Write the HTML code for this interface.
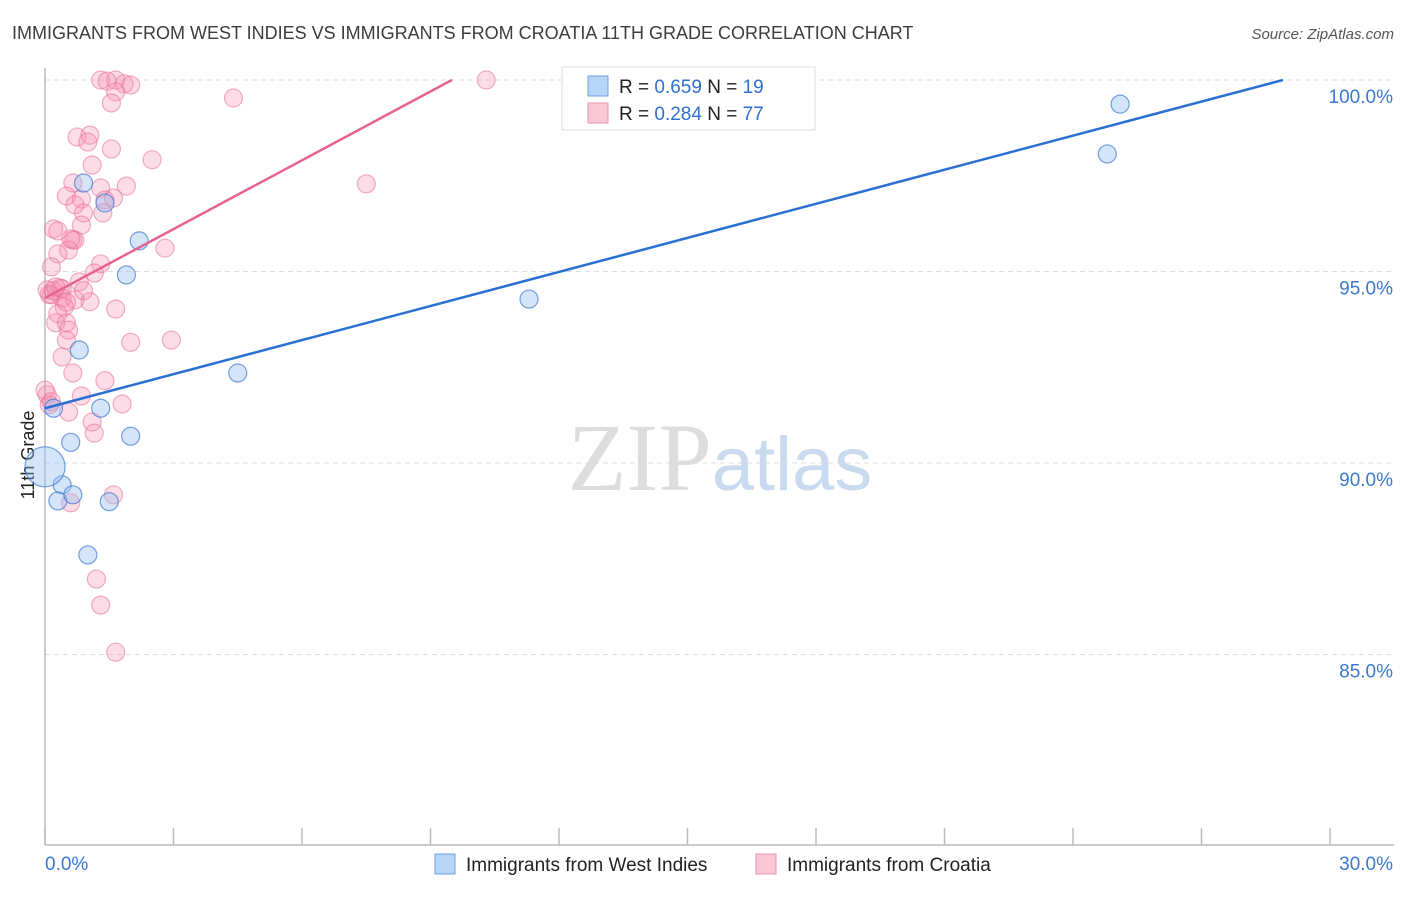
<!DOCTYPE html>
<html><head><meta charset="utf-8">
<style>
body{margin:0;background:#fff;font-family:"Liberation Sans",sans-serif;}
</style></head>
<body>
<svg id="chart" width="1406" height="892" xmlns="http://www.w3.org/2000/svg" font-family="Liberation Sans, sans-serif">
<text x="12" y="39" font-size="18" fill="#3c3c3c">IMMIGRANTS FROM WEST INDIES VS IMMIGRANTS FROM CROATIA 11TH GRADE CORRELATION CHART</text>
<text x="1394" y="39" font-size="15" fill="#555" text-anchor="end" font-style="italic">Source: ZipAtlas.com</text>
<text x="720" y="490" font-size="96" text-anchor="middle" fill="#ddd" font-family="Liberation Serif, serif">ZIP<tspan fill="#c9d9ee" font-family="Liberation Sans, sans-serif" font-size="76">atlas</tspan></text>
<text transform="translate(34,455) rotate(-90)" font-size="18" fill="#222" text-anchor="middle">11th Grade</text>
<g id="grid"></g><g id="axes"></g><g id="pts"></g><g id="lines"></g>
<g>
<rect x="562" y="67" width="253" height="63" fill="#fff" stroke="#ddd"/>
<rect x="588" y="76" width="20" height="20" fill="#b8d4f7" stroke="#6f9fe0"/>
<text x="619" y="93" font-size="19" fill="#222">R = <tspan fill="#2f6fd0">0.659</tspan>   N = <tspan fill="#2f6fd0">19</tspan></text>
<rect x="588" y="103" width="20" height="20" fill="#f9c7d6" stroke="#ec93b0"/>
<text x="619" y="120" font-size="19" fill="#222">R = <tspan fill="#2f6fd0">0.284</tspan>   N = <tspan fill="#2f6fd0">77</tspan></text>
</g>
<g>
<rect x="435" y="854" width="20" height="20" fill="#b8d4f7" stroke="#6f9fe0"/>
<text x="466" y="871" font-size="19" fill="#222">Immigrants from West Indies</text>
<rect x="756" y="854" width="20" height="20" fill="#f9c7d6" stroke="#ec93b0"/>
<text x="787" y="871" font-size="19" fill="#222">Immigrants from Croatia</text>
</g>
</svg>
<script>
const yTicks=[100,95,90,85];
const xTickLabels=["0.0%","30.0%"];
const blueX=[25.1,24.8,11.3,4.5,2.2,1.9,1.4,0.9,0.8,1.3,2.0,0.6,0.2,0.4,0.3,0.65,1.5,1.0,0.0];
const blueY=[99.37,98.07,94.28,92.35,95.8,94.91,96.79,97.31,92.95,91.43,90.7,90.54,91.43,89.43,89.01,89.17,88.99,87.6,89.9];
const blueR=[9,9,9,9,9,9,9,9,9,9,9,9,9,9,9,9,9,9,20];
const pinkX=[1.3,1.65,1.45,1.85,2.0,1.65,1.55,10.3,4.4,0.75,1.05,1.0,1.55,2.5,1.1,7.5,0.65,1.9,1.3,0.5,0.85,1.4,1.6,0.7,0.9,1.35,0.85,0.2,0.65,0.7,0.55,0.3,2.8,1.3,0.15,1.15,0.8,0.35,0.05,0.15,0.4,1.05,0.7,0.45,1.65,0.25,0.5,0.55,0.5,2.0,2.95,0.4,0.65,1.4,0.05,0.1,0.85,1.8,0.55,1.1,1.15,1.6,0.6,1.2,1.3,1.65,0.3,0.0,0.1,0.2,0.4,0.6,0.3,0.9,0.5,0.25,0.15];
const pinkY=[100,100,99.97,99.9,99.87,99.69,99.4,100,99.53,98.51,98.56,98.38,98.2,97.92,97.78,97.29,97.31,97.23,97.18,96.97,96.89,96.87,96.92,96.74,96.53,96.53,96.21,96.11,95.82,95.82,95.56,95.46,95.61,95.2,95.12,94.96,94.73,94.57,94.52,94.39,94.31,94.21,94.26,94.07,94.02,93.66,93.66,93.47,93.21,93.15,93.21,92.77,92.35,92.15,91.78,91.52,91.75,91.54,91.33,91.07,90.78,89.17,88.96,86.97,86.29,85.06,96.06,91.9,94.4,94.5,94.55,95.85,93.9,94.5,94.2,94.6,91.6];
const blueLine=[[0,91.43],[28.9,100]];
const pinkLine=[[0,94.31],[9.5,100]];
const X0=45,X1=1330,YT=80,PX5=191.5;
const sx=v=>X0+(X1-X0)*v/30;
const sy=v=>YT+(100-v)*PX5/5;
const NS="http://www.w3.org/2000/svg";
function mk(tag,attrs,parent){const e=document.createElementNS(NS,tag);for(const k in attrs)e.setAttribute(k,attrs[k]);parent.appendChild(e);return e;}
const grid=document.getElementById('grid'),axes=document.getElementById('axes'),pts=document.getElementById('pts'),lines=document.getElementById('lines');
yTicks.forEach(t=>{
  const l=mk('line',{x1:X0,x2:1394,y1:sy(t),y2:sy(t),stroke:'#ddd','stroke-dasharray':'5,4'},grid);
  
  
  const tx=mk('text',{x:1393,y:sy(t)+23,'font-size':19,fill:'#3a78d4','text-anchor':'end'},axes);
  tx.textContent=t.toFixed(1)+'%';
  
  
});
const gl=mk('line',{x1:X0,x2:1394,y1:YT,y2:YT,stroke:'#ddd','stroke-dasharray':'5,4'},grid);


const ya=mk('line',{x1:X0,x2:X0,y1:68,y2:845,stroke:'#bbb','stroke-width':1.5},axes);


const xa=mk('line',{x1:X0,x2:1394,y1:845,y2:845,stroke:'#bbb','stroke-width':1.5},axes);


for(let i=0;i<=10;i++){const t=mk('line',{x1:sx(i*3),x2:sx(i*3),y1:828,y2:845,stroke:'#bbb','stroke-width':1.5},axes);

}
const xl0=mk('text',{x:45,y:870,'font-size':19,fill:'#3a78d4'},axes);xl0.textContent=xTickLabels[0];


const xl1=mk('text',{x:1393,y:870,'font-size':19,fill:'#3a78d4','text-anchor':'end'},axes);xl1.textContent=xTickLabels[1];


pinkX.forEach((v,i)=>{const c=mk('circle',{cx:sx(v),cy:sy(pinkY[i]),r:9,fill:'rgba(244,143,177,0.3)',stroke:'rgba(232,110,150,0.55)','stroke-width':1.2},pts);

});
blueX.forEach((v,i)=>{const c=mk('circle',{cx:sx(v),cy:sy(blueY[i]),r:blueR[i],fill:'rgba(150,190,240,0.4)',stroke:'rgba(60,120,210,0.7)','stroke-width':1.2},pts);

});
const bl=mk('line',{x1:sx(blueLine[0][0]),y1:sy(blueLine[0][1]),x2:sx(blueLine[1][0]),y2:sy(blueLine[1][1]),stroke:'#2a6fd4','stroke-width':2.5},lines);


const pl=mk('line',{x1:sx(pinkLine[0][0]),y1:sy(pinkLine[0][1]),x2:sx(pinkLine[1][0]),y2:sy(pinkLine[1][1]),stroke:'#e8628f','stroke-width':2.5},lines);


</script>
</body></html>
